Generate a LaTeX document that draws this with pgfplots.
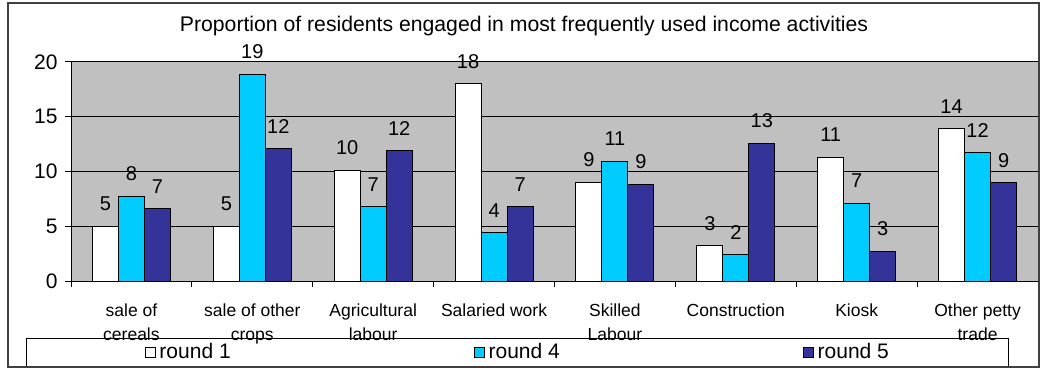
\documentclass[border=0pt]{standalone}
\usepackage{fontspec}
\setmainfont{Liberation Sans}
\usepackage{pgfplots}
\usepackage{pgfplotstable}
\pgfplotsset{compat=1.18}
\definecolor{plotgray}{HTML}{C0C0C0}
\definecolor{rcyan}{HTML}{00CCFF}
\definecolor{rblue}{HTML}{333399}

\pgfplotstableread{
x y lab
0 5.0 5
1 5.0 5
2 10.1 10
3 18.0 18
4 9.0 9
5 3.2 3
6 11.3 11
7 13.9 14
}\roundone
\pgfplotstableread{
x y lab
0 7.7 8
1 18.9 19
2 6.8 7
3 4.4 4
4 10.95 11
5 2.4 2
6 7.1 7
7 11.7 12
}\roundfour
\pgfplotstableread{
x y lab
0 6.6 7
1 12.1 12
2 11.9 12
3 6.8 7
4 8.8 9
5 12.6 13
6 2.7 3
7 8.95 9
}\roundfive

\begin{document}
\begin{tikzpicture}
\path[use as bounding box] (0,0) rectangle (1048bp,370bp);
\draw[black, line width=1bp, fill=white] (26bp,3bp) rectangle (1008bp,31bp);
\begin{axis}[
  at={(71bp,89bp)}, anchor=south west,
  width=967bp, height=219bp, scale only axis,
  xmin=-0.5, xmax=7.5, ymin=0, ymax=20,
  ybar=0pt, bar width=26bp,
  axis background/.style={fill=plotgray},
  axis x line*=bottom, axis y line*=left,
  axis line style={line width=1bp, -, black},
  ytick={0,5,10,15,20},
  ymajorgrids, major grid style={black, line width=1bp},
  tick style={black, line width=1bp},
  tick align=outside,
  major tick length=6bp,
  minor tick length=6bp,
  xtick={0,...,7},
  xticklabels={sale of\\cereals, sale of other\\crops, Agricultural\\labour, Salaried work, Skilled\\Labour, Construction, Kiosk, Other petty\\trade},
  xtick style={/pgfplots/major tick length=0pt},
  minor xtick={-0.5,0.5,...,7.5},
  /pgf/number format/assume math mode=true,
  yticklabel style={font=\fontsize{21bp}{21bp}\selectfont, xshift=-4bp},
  xticklabel style={font=\fontsize{17.5bp}{24bp}\selectfont, align=center, anchor=north, yshift=-13bp},
  title={Proportion of residents engaged in most frequently used income activities},
  title style={at={(axis description cs:0.4685,1)}, anchor=center, yshift=30bp, font=\fontsize{21.2bp}{21.2bp}\selectfont},
  nodes near coords,
  point meta=explicit symbolic,
  every node near coord/.append style={font=\fontsize{20bp}{20bp}\selectfont, inner sep=0pt, anchor=south, yshift=15bp, black},
  legend columns=3,
  legend style={at={(axis description cs:0.462,-0.324)}, anchor=center, draw=none, fill=none,
    font=\fontsize{21bp}{21bp}\selectfont,
    /tikz/every even column/.append style={column sep=241bp}},
  sqleg/.style={legend image code/.code={\draw[##1,draw=black,line width=0.8bp] (0bp,-5bp) rectangle (10bp,5bp); \path (12bp,0bp);}},
]
\addplot[fill=white, draw=black, line width=1bp, sqleg] table[x=x, y=y, meta=lab]{\roundone};
\addplot[fill=rcyan, draw=black, line width=1bp, sqleg] table[x=x, y=y, meta=lab]{\roundfour};
\addplot[fill=rblue, draw=black, line width=1bp, sqleg] table[x=x, y=y, meta=lab]{\roundfive};
\legend{round 1, round 4, round 5}
\end{axis}
\draw[line width=1.5bp, black!75] (8bp,3bp) rectangle (1039bp,367bp);
\end{tikzpicture}
\end{document}
